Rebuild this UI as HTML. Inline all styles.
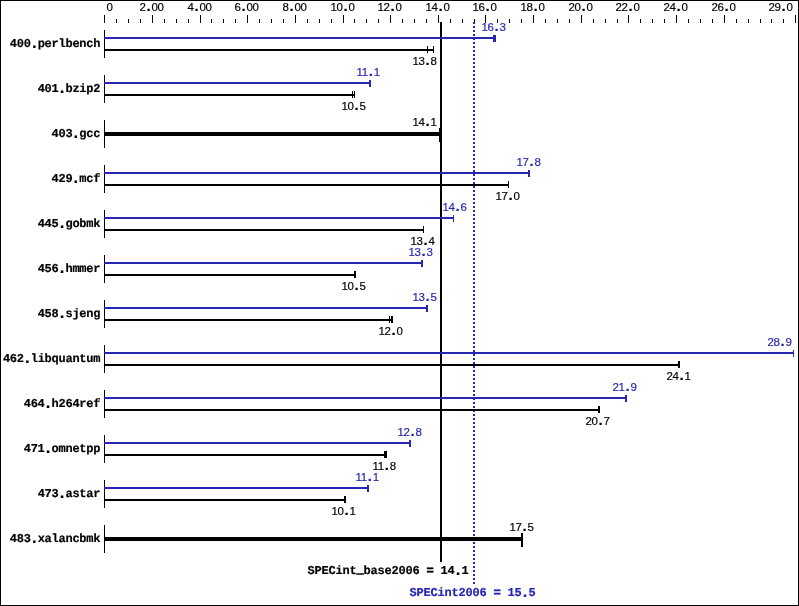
<!DOCTYPE html>
<html><head><meta charset="utf-8"><title>SPECint2006</title>
<style>
html,body{margin:0;padding:0;background:#fff}
#c{position:relative;width:799px;height:606px;background:#fff;overflow:hidden}
#bd{position:absolute;left:0;top:0;width:797px;height:604px;border:1px solid #000}
.r{position:absolute}
#t{position:absolute;left:0;top:0;width:799px;height:606px;will-change:transform}
.dot{background:repeating-linear-gradient(to bottom,#2626b0 0,#2626b0 2px,transparent 2px,transparent 4px)}
.s{position:absolute;font-family:"Liberation Sans",sans-serif;font-size:11.5px;line-height:13px;letter-spacing:-0.3958px;white-space:pre;-webkit-text-stroke:0.18px}
.s i{font-style:normal;font-weight:bold;font-size:15px;line-height:0;margin-left:0.9px;letter-spacing:0.93px}
.b i{font-style:normal;font-size:16px;line-height:0;margin-left:-1.3px;letter-spacing:-1.35px;position:relative;top:1px}
.b b{-webkit-text-stroke:0.6px}
.b u{text-decoration:none;position:relative;top:-1.3px;-webkit-text-stroke:0.7px}
.b{position:absolute;text-rendering:geometricPrecision;font-family:"Liberation Mono",monospace;font-weight:bold;font-size:12px;line-height:13px;letter-spacing:-0.2512px;white-space:pre;-webkit-text-stroke:0.2px}
</style></head><body><div id="c"><div id="bd"></div>
<div class="r" style="left:104px;top:15px;width:1px;height:8px;background:#000"></div>
<div class="r" style="left:116px;top:19px;width:1px;height:4px;background:#000"></div>
<div class="r" style="left:128px;top:19px;width:1px;height:4px;background:#000"></div>
<div class="r" style="left:140px;top:19px;width:1px;height:4px;background:#000"></div>
<div class="r" style="left:152px;top:15px;width:1px;height:8px;background:#000"></div>
<div class="r" style="left:164px;top:19px;width:1px;height:4px;background:#000"></div>
<div class="r" style="left:176px;top:19px;width:1px;height:4px;background:#000"></div>
<div class="r" style="left:188px;top:19px;width:1px;height:4px;background:#000"></div>
<div class="r" style="left:200px;top:15px;width:1px;height:8px;background:#000"></div>
<div class="r" style="left:211px;top:19px;width:1px;height:4px;background:#000"></div>
<div class="r" style="left:223px;top:19px;width:1px;height:4px;background:#000"></div>
<div class="r" style="left:235px;top:19px;width:1px;height:4px;background:#000"></div>
<div class="r" style="left:247px;top:15px;width:1px;height:8px;background:#000"></div>
<div class="r" style="left:259px;top:19px;width:1px;height:4px;background:#000"></div>
<div class="r" style="left:271px;top:19px;width:1px;height:4px;background:#000"></div>
<div class="r" style="left:283px;top:19px;width:1px;height:4px;background:#000"></div>
<div class="r" style="left:295px;top:15px;width:1px;height:8px;background:#000"></div>
<div class="r" style="left:307px;top:19px;width:1px;height:4px;background:#000"></div>
<div class="r" style="left:319px;top:19px;width:1px;height:4px;background:#000"></div>
<div class="r" style="left:331px;top:19px;width:1px;height:4px;background:#000"></div>
<div class="r" style="left:343px;top:15px;width:1px;height:8px;background:#000"></div>
<div class="r" style="left:354px;top:19px;width:1px;height:4px;background:#000"></div>
<div class="r" style="left:366px;top:19px;width:1px;height:4px;background:#000"></div>
<div class="r" style="left:378px;top:19px;width:1px;height:4px;background:#000"></div>
<div class="r" style="left:390px;top:15px;width:1px;height:8px;background:#000"></div>
<div class="r" style="left:402px;top:19px;width:1px;height:4px;background:#000"></div>
<div class="r" style="left:414px;top:19px;width:1px;height:4px;background:#000"></div>
<div class="r" style="left:426px;top:19px;width:1px;height:4px;background:#000"></div>
<div class="r" style="left:438px;top:15px;width:1px;height:8px;background:#000"></div>
<div class="r" style="left:450px;top:19px;width:1px;height:4px;background:#000"></div>
<div class="r" style="left:462px;top:19px;width:1px;height:4px;background:#000"></div>
<div class="r" style="left:474px;top:19px;width:1px;height:4px;background:#000"></div>
<div class="r" style="left:485px;top:15px;width:1px;height:8px;background:#000"></div>
<div class="r" style="left:497px;top:19px;width:1px;height:4px;background:#000"></div>
<div class="r" style="left:509px;top:19px;width:1px;height:4px;background:#000"></div>
<div class="r" style="left:521px;top:19px;width:1px;height:4px;background:#000"></div>
<div class="r" style="left:533px;top:15px;width:1px;height:8px;background:#000"></div>
<div class="r" style="left:545px;top:19px;width:1px;height:4px;background:#000"></div>
<div class="r" style="left:557px;top:19px;width:1px;height:4px;background:#000"></div>
<div class="r" style="left:569px;top:19px;width:1px;height:4px;background:#000"></div>
<div class="r" style="left:581px;top:15px;width:1px;height:8px;background:#000"></div>
<div class="r" style="left:593px;top:19px;width:1px;height:4px;background:#000"></div>
<div class="r" style="left:605px;top:19px;width:1px;height:4px;background:#000"></div>
<div class="r" style="left:617px;top:19px;width:1px;height:4px;background:#000"></div>
<div class="r" style="left:628px;top:15px;width:1px;height:8px;background:#000"></div>
<div class="r" style="left:640px;top:19px;width:1px;height:4px;background:#000"></div>
<div class="r" style="left:652px;top:19px;width:1px;height:4px;background:#000"></div>
<div class="r" style="left:664px;top:19px;width:1px;height:4px;background:#000"></div>
<div class="r" style="left:676px;top:15px;width:1px;height:8px;background:#000"></div>
<div class="r" style="left:688px;top:19px;width:1px;height:4px;background:#000"></div>
<div class="r" style="left:700px;top:19px;width:1px;height:4px;background:#000"></div>
<div class="r" style="left:712px;top:19px;width:1px;height:4px;background:#000"></div>
<div class="r" style="left:724px;top:15px;width:1px;height:8px;background:#000"></div>
<div class="r" style="left:736px;top:19px;width:1px;height:4px;background:#000"></div>
<div class="r" style="left:748px;top:19px;width:1px;height:4px;background:#000"></div>
<div class="r" style="left:760px;top:19px;width:1px;height:4px;background:#000"></div>
<div class="r" style="left:771px;top:19px;width:1px;height:4px;background:#000"></div>
<div class="r" style="left:783px;top:19px;width:1px;height:4px;background:#000"></div>
<div class="r" style="left:795px;top:15px;width:1px;height:8px;background:#000"></div>
<div class="r" style="left:440px;top:22px;width:2px;height:540px;background:#000"></div>
<div class="r dot" style="left:473px;top:22px;width:2px;height:562px"></div>
<div class="r" style="left:104px;top:30px;width:1px;height:28px;background:#000"></div>
<div class="r" style="left:104px;top:37px;width:389px;height:2px;background:#2626b0"></div>
<div class="r" style="left:493px;top:35px;width:3px;height:7px;background:#2626b0"></div>
<div class="r" style="left:105px;top:49px;width:329px;height:2px;background:#000"></div>
<div class="r" style="left:427px;top:46px;width:1px;height:7px;background:#000"></div>
<div class="r" style="left:433px;top:46px;width:1px;height:7px;background:#000"></div>
<div class="r" style="left:104px;top:75px;width:1px;height:28px;background:#000"></div>
<div class="r" style="left:104px;top:82px;width:265px;height:2px;background:#2626b0"></div>
<div class="r" style="left:369px;top:80px;width:2px;height:7px;background:#2626b0"></div>
<div class="r" style="left:105px;top:94px;width:250px;height:2px;background:#000"></div>
<div class="r" style="left:352px;top:91px;width:1px;height:7px;background:#000"></div>
<div class="r" style="left:354px;top:91px;width:1px;height:7px;background:#000"></div>
<div class="r" style="left:104px;top:120px;width:1px;height:28px;background:#000"></div>
<div class="r" style="left:105px;top:132px;width:335px;height:4px;background:#000"></div>
<div class="r" style="left:439px;top:128px;width:3px;height:14px;background:#000"></div>
<div class="r" style="left:104px;top:165px;width:1px;height:28px;background:#000"></div>
<div class="r" style="left:104px;top:172px;width:424px;height:2px;background:#2626b0"></div>
<div class="r" style="left:528px;top:170px;width:2px;height:7px;background:#2626b0"></div>
<div class="r" style="left:105px;top:184px;width:404px;height:2px;background:#000"></div>
<div class="r" style="left:508px;top:181px;width:1px;height:7px;background:#000"></div>
<div class="r" style="left:104px;top:210px;width:1px;height:28px;background:#000"></div>
<div class="r" style="left:104px;top:217px;width:349px;height:2px;background:#2626b0"></div>
<div class="r" style="left:453px;top:215px;width:1px;height:7px;background:#2626b0"></div>
<div class="r" style="left:105px;top:229px;width:319px;height:2px;background:#000"></div>
<div class="r" style="left:423px;top:226px;width:1px;height:7px;background:#000"></div>
<div class="r" style="left:104px;top:255px;width:1px;height:28px;background:#000"></div>
<div class="r" style="left:104px;top:262px;width:317px;height:2px;background:#2626b0"></div>
<div class="r" style="left:421px;top:260px;width:2px;height:7px;background:#2626b0"></div>
<div class="r" style="left:105px;top:274px;width:250px;height:2px;background:#000"></div>
<div class="r" style="left:354px;top:271px;width:2px;height:7px;background:#000"></div>
<div class="r" style="left:104px;top:300px;width:1px;height:28px;background:#000"></div>
<div class="r" style="left:104px;top:307px;width:322px;height:2px;background:#2626b0"></div>
<div class="r" style="left:426px;top:305px;width:2px;height:7px;background:#2626b0"></div>
<div class="r" style="left:105px;top:319px;width:288px;height:2px;background:#000"></div>
<div class="r" style="left:389px;top:316px;width:1.3px;height:7px;background:#000"></div>
<div class="r" style="left:391.3px;top:316px;width:1.4px;height:7px;background:#000"></div>
<div class="r" style="left:104px;top:345px;width:1px;height:28px;background:#000"></div>
<div class="r" style="left:104px;top:352px;width:689px;height:2px;background:#2626b0"></div>
<div class="r" style="left:793px;top:350px;width:1px;height:7px;background:#2626b0"></div>
<div class="r" style="left:105px;top:364px;width:574px;height:2px;background:#000"></div>
<div class="r" style="left:678px;top:361px;width:2px;height:7px;background:#000"></div>
<div class="r" style="left:104px;top:390px;width:1px;height:28px;background:#000"></div>
<div class="r" style="left:104px;top:397px;width:521px;height:2px;background:#2626b0"></div>
<div class="r" style="left:625px;top:395px;width:2px;height:7px;background:#2626b0"></div>
<div class="r" style="left:105px;top:409px;width:494px;height:2px;background:#000"></div>
<div class="r" style="left:598px;top:406px;width:2px;height:7px;background:#000"></div>
<div class="r" style="left:104px;top:435px;width:1px;height:28px;background:#000"></div>
<div class="r" style="left:104px;top:442px;width:305px;height:2px;background:#2626b0"></div>
<div class="r" style="left:409px;top:440px;width:2px;height:7px;background:#2626b0"></div>
<div class="r" style="left:105px;top:454px;width:280px;height:2px;background:#000"></div>
<div class="r" style="left:384px;top:451px;width:3px;height:7px;background:#000"></div>
<div class="r" style="left:104px;top:480px;width:1px;height:28px;background:#000"></div>
<div class="r" style="left:104px;top:487px;width:263px;height:2px;background:#2626b0"></div>
<div class="r" style="left:367px;top:485px;width:2px;height:7px;background:#2626b0"></div>
<div class="r" style="left:105px;top:499px;width:240px;height:2px;background:#000"></div>
<div class="r" style="left:344px;top:496px;width:2px;height:7px;background:#000"></div>
<div class="r" style="left:104px;top:525px;width:1px;height:28px;background:#000"></div>
<div class="r" style="left:105px;top:537px;width:417px;height:4px;background:#000"></div>
<div class="r" style="left:521px;top:533px;width:2px;height:14px;background:#000"></div>
<div id="t">
<div class="s" style="left:106.6px;top:1px;color:#000">0</div>
<div class="s" style="left:139.6px;top:1px;color:#000">2<i>.</i>00</div>
<div class="s" style="left:187.6px;top:1px;color:#000">4<i>.</i>00</div>
<div class="s" style="left:234.6px;top:1px;color:#000">6<i>.</i>00</div>
<div class="s" style="left:282.6px;top:1px;color:#000">8<i>.</i>00</div>
<div class="s" style="left:330.6px;top:1px;color:#000">10<i>.</i>0</div>
<div class="s" style="left:377.6px;top:1px;color:#000">12<i>.</i>0</div>
<div class="s" style="left:425.6px;top:1px;color:#000">14<i>.</i>0</div>
<div class="s" style="left:472.6px;top:1px;color:#000">16<i>.</i>0</div>
<div class="s" style="left:520.6px;top:1px;color:#000">18<i>.</i>0</div>
<div class="s" style="left:568.6px;top:1px;color:#000">20<i>.</i>0</div>
<div class="s" style="left:615.6px;top:1px;color:#000">22<i>.</i>0</div>
<div class="s" style="left:663.6px;top:1px;color:#000">24<i>.</i>0</div>
<div class="s" style="left:711.6px;top:1px;color:#000">26<i>.</i>0</div>
<div class="s" style="left:768.6px;top:1px;color:#000">29<i>.</i>0</div>
<div class="b" style="right:698.8px;top:38.4px;color:#000">400<i>.</i>perlbench</div>
<div class="s" style="left:481.6px;top:21px;color:#2626b0">16<i>.</i>3</div>
<div class="s" style="left:412.6px;top:55px;color:#000">13<i>.</i>8</div>
<div class="b" style="right:698.8px;top:83.4px;color:#000">401<i>.</i>bzip2</div>
<div class="s" style="left:356.6px;top:66px;color:#2626b0">11<i>.</i>1</div>
<div class="s" style="left:341.6px;top:100px;color:#000">10<i>.</i>5</div>
<div class="b" style="right:698.8px;top:128.4px;color:#000">403<i>.</i>gcc</div>
<div class="s" style="left:412.6px;top:116px;color:#000">14<i>.</i>1</div>
<div class="b" style="right:698.8px;top:173.4px;color:#000">429<i>.</i>mcf</div>
<div class="s" style="left:516.6px;top:156px;color:#2626b0">17<i>.</i>8</div>
<div class="s" style="left:495.6px;top:190px;color:#000">17<i>.</i>0</div>
<div class="b" style="right:698.8px;top:218.4px;color:#000">445<i>.</i>gobmk</div>
<div class="s" style="left:442.6px;top:201px;color:#2626b0">14<i>.</i>6</div>
<div class="s" style="left:410.6px;top:235px;color:#000">13<i>.</i>4</div>
<div class="b" style="right:698.8px;top:263.4px;color:#000">456<i>.</i>hmmer</div>
<div class="s" style="left:408.6px;top:246px;color:#2626b0">13<i>.</i>3</div>
<div class="s" style="left:341.6px;top:280px;color:#000">10<i>.</i>5</div>
<div class="b" style="right:698.8px;top:308.4px;color:#000">458<i>.</i>sjeng</div>
<div class="s" style="left:412.6px;top:291px;color:#2626b0">13<i>.</i>5</div>
<div class="s" style="left:378.6px;top:325px;color:#000">12<i>.</i>0</div>
<div class="b" style="right:698.8px;top:353.4px;color:#000">462<i>.</i>libquantum</div>
<div class="s" style="left:767.6px;top:336px;color:#2626b0">28<i>.</i>9</div>
<div class="s" style="left:666.6px;top:370px;color:#000">24<i>.</i>1</div>
<div class="b" style="right:698.8px;top:398.4px;color:#000">464<i>.</i>h264ref</div>
<div class="s" style="left:612.6px;top:381px;color:#2626b0">21<i>.</i>9</div>
<div class="s" style="left:585.6px;top:415px;color:#000">20<i>.</i>7</div>
<div class="b" style="right:698.8px;top:443.4px;color:#000">471<i>.</i>omnetpp</div>
<div class="s" style="left:397.6px;top:426px;color:#2626b0">12<i>.</i>8</div>
<div class="s" style="left:372.6px;top:460px;color:#000">11<i>.</i>8</div>
<div class="b" style="right:698.8px;top:488.4px;color:#000">473<i>.</i>astar</div>
<div class="s" style="left:355.6px;top:471px;color:#2626b0">11<i>.</i>1</div>
<div class="s" style="left:331.6px;top:505px;color:#000">10<i>.</i>1</div>
<div class="b" style="right:698.8px;top:533.4px;color:#000">483<i>.</i>xalancbmk</div>
<div class="s" style="left:509.6px;top:521px;color:#000">17<i>.</i>5</div>
<div class="b" style="left:307.5px;top:564.9px;color:#000;letter-spacing:-0.2012px">SPECint<u>_</u>base2006 <b>=</b> 14<i>.</i>1</div>
<div class="b" style="left:409.5px;top:587.4px;color:#2626b0;letter-spacing:-0.2012px">SPECint2006 <b>=</b> 15<i>.</i>5</div>
</div>
</div></body></html>
